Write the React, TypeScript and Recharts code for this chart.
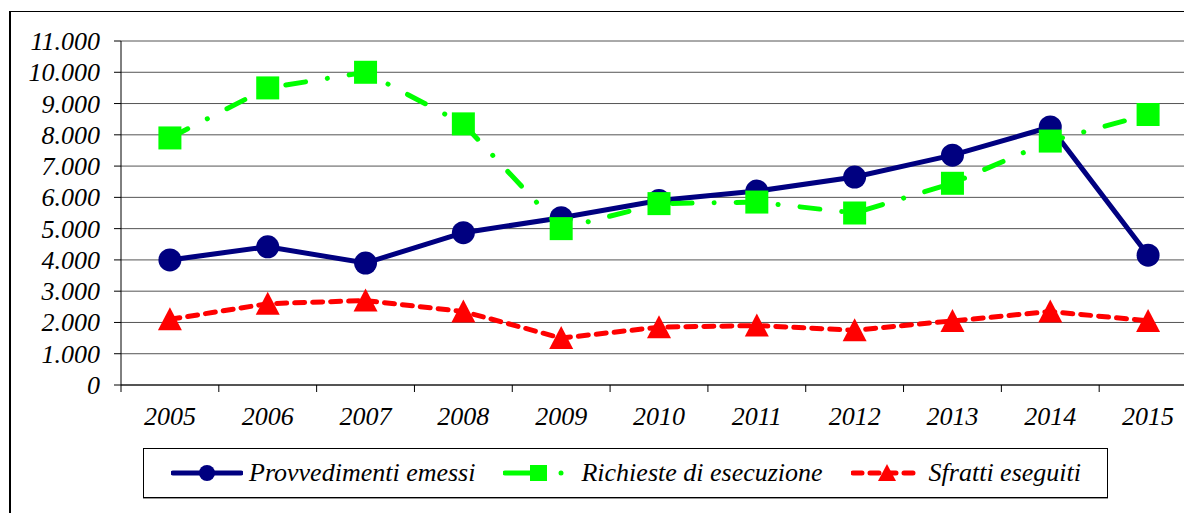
import React from "react";
import {
  CartesianGrid,
  Line,
  LineChart,
  XAxis,
  YAxis,
} from "recharts";

const years = ["2005", "2006", "2007", "2008", "2009", "2010", "2011", "2012", "2013", "2014", "2015"];
const provvedimenti = [4000, 4420, 3900, 4870, 5350, 5900, 6200, 6650, 7350, 8250, 4150];
const richieste = [7900, 9500, 10000, 8350, 5000, 5800, 5850, 5500, 6450, 7800, 8650];
const sfratti = [2100, 2600, 2700, 2350, 1500, 1850, 1900, 1750, 2050, 2350, 2050];
const yTicks = [0, 1000, 2000, 3000, 4000, 5000, 6000, 7000, 8000, 9000, 10000, 11000];
const seriesNames = ["Provvedimenti emessi", "Richieste di esecuzione", "Sfratti eseguiti"];

const NAVY = "#000080";
const GREEN = "#00FF00";
const RED = "#FF0000";
const FONT = "Liberation Serif";

const CHART_W = 1200;
const CHART_H = 497;
const Y_AXIS_W = 113;
const MARGIN = { top: 33, right: 11, bottom: 80, left: 0 };
const BAND = (CHART_W - Y_AXIS_W - MARGIN.right) / years.length;

const data = years.map((year, i) => ({
  year,
  provvedimenti: provvedimenti[i],
  richieste: richieste[i],
  sfratti: sfratti[i],
}));

const fmt = (v: number) => String(v).replace(/\B(?=(\d{3})+(?!\d))/g, ".");

const labelStyle = { fontFamily: FONT, fontStyle: "italic", fontSize: 26 } as const;

const CircleDot = ({ cx, cy, index }: any) => (
  <circle key={`c-${index}`} cx={cx} cy={cy} r={11.5} fill={NAVY} />
);

const SquareDot = ({ cx, cy, index }: any) => (
  <rect key={`s-${index}`} x={cx - 11.5} y={cy - 11.5} width={23} height={23} fill={GREEN} />
);

const TriangleDot = ({ cx, cy, index }: any) => (
  <polygon
    key={`t-${index}`}
    points={`${cx},${cy - 12} ${cx + 12},${cy + 11} ${cx - 12},${cy + 11}`}
    fill={RED}
  />
);

// year label in the middle of the band, tick mark on the band's left edge
const YearTick = ({ x, y, payload }: any) => (
  <g>
    <line x1={x - BAND / 2} y1={y - 7} x2={x - BAND / 2} y2={y} stroke="#000" strokeWidth={1} />
    <text x={x} y={y + 33} textAnchor="middle" fill="#000" style={labelStyle}>
      {payload.value}
    </text>
  </g>
);

const ValueTick = ({ x, y, payload }: any) => (
  <text x={x} y={y + 9} textAnchor="end" fill="#000" style={labelStyle}>
    {fmt(payload.value)}
  </text>
);

const LegendIcon = ({ kind }: { kind: number }) => {
  if (kind === 0) {
    return (
      <svg width={72} height={24}>
        <line x1={2} y1={12} x2={70} y2={12} stroke={NAVY} strokeWidth={5} strokeLinecap="round" />
        <circle cx={36} cy={12} r={8} fill={NAVY} />
      </svg>
    );
  }
  if (kind === 1) {
    return (
      <svg width={72} height={24}>
        <line x1={2} y1={12} x2={30} y2={12} stroke={GREEN} strokeWidth={5} strokeLinecap="round" />
        <rect x={27} y={4} width={17} height={16} fill={GREEN} />
        <circle cx={58} cy={12} r={2.5} fill={GREEN} />
      </svg>
    );
  }
  return (
    <svg width={72} height={24}>
      <line
        x1={2}
        y1={12}
        x2={70}
        y2={12}
        stroke={RED}
        strokeWidth={5}
        strokeLinecap="round"
        strokeDasharray="9 8"
      />
      <polygon points="36,3 45,20 27,20" fill={RED} />
    </svg>
  );
};

export default function App() {
  return (
    <div style={{ position: "relative", width: 1184, height: 505, overflow: "hidden", background: "#fff" }}>
      <div
        style={{
          position: "absolute",
          left: 1,
          top: 3,
          width: 1400,
          height: 700,
          borderLeft: "2px solid #000",
          borderTop: "1px solid #000",
        }}
      />
      <div style={{ position: "absolute", left: 0, top: 0 }}>
        <LineChart width={CHART_W} height={CHART_H} data={data} margin={MARGIN}>
          <CartesianGrid vertical={false} stroke="#555" strokeWidth={1} />
          <XAxis
            dataKey="year"
            padding={{ left: BAND / 2, right: BAND / 2 }}
            axisLine={{ stroke: "#000", strokeWidth: 1 }}
            tickLine={false}
            tickSize={7}
            tickMargin={0}
            height={40}
            interval={0}
            tick={<YearTick />}
          />
          <YAxis
            width={Y_AXIS_W}
            domain={[0, 11000]}
            ticks={yTicks}
            interval={0}
            axisLine={{ stroke: "#000", strokeWidth: 1 }}
            tickLine={{ stroke: "#000", strokeWidth: 1 }}
            tickSize={7}
            tickMargin={14}
            tick={<ValueTick />}
          />
          <Line
            type="linear"
            dataKey="provvedimenti"
            stroke={NAVY}
            strokeWidth={5}
            dot={<CircleDot />}
            activeDot={false}
            isAnimationActive={false}
          />
          <Line
            type="linear"
            dataKey="richieste"
            stroke={GREEN}
            strokeWidth={5}
            strokeLinecap="round"
            strokeDasharray="20 22 0.1 22"
            dot={<SquareDot />}
            activeDot={false}
            isAnimationActive={false}
          />
          <Line
            type="linear"
            dataKey="sfratti"
            stroke={RED}
            strokeWidth={5}
            strokeLinecap="round"
            strokeDasharray="10 8"
            dot={<TriangleDot />}
            activeDot={false}
            isAnimationActive={false}
          />
        </LineChart>
      </div>
      <div
        style={{
          position: "absolute",
          left: 135,
          top: 440,
          width: 965,
          height: 50,
          border: "1px solid #000",
          boxShadow: "0 1px 0 #999",
          display: "flex",
          alignItems: "center",
          paddingLeft: 27,
          boxSizing: "border-box",
          ...labelStyle,
          color: "#000",
        }}>
        {seriesNames.map((name, i) => (
          <div key={name} style={{ display: "flex", alignItems: "center", marginRight: 28 }}>
            <LegendIcon kind={i} />
            <span style={{ marginLeft: 6, whiteSpace: "nowrap" }}>{name}</span>
          </div>
        ))}
      </div>
    </div>
  );
}
